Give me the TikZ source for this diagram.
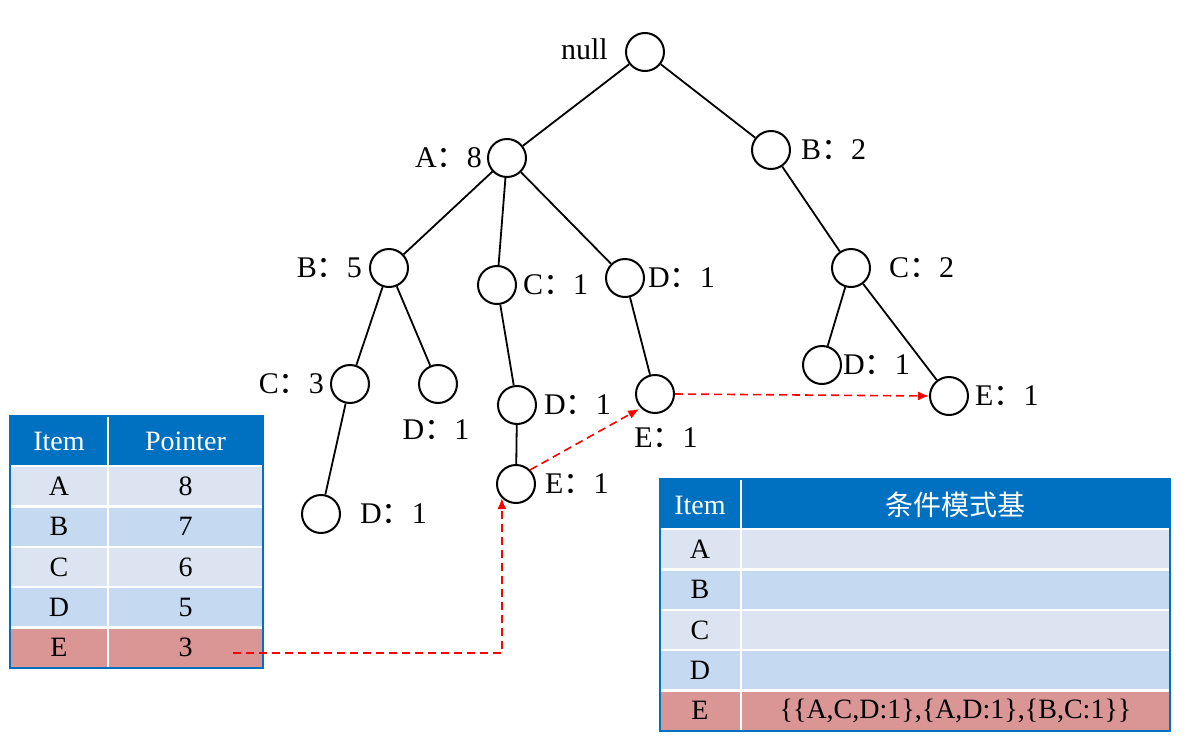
\documentclass[tikz,border=0pt]{standalone}
\usepackage{fontspec}
\setmainfont{Liberation Serif}
\newfontfamily\cjk{Noto Sans CJK SC}
\usetikzlibrary{arrows.meta, positioning}
\definecolor{hdrblue}{RGB}{0,112,192}
\definecolor{rowlight}{RGB}{219,228,240}
\definecolor{rowmid}{RGB}{197,217,240}
\definecolor{rowred}{RGB}{217,150,148}
\newcommand{\cn}{{\cjk ：}}

\begin{document}
\begin{tikzpicture}[x=1pt, y=-1pt,
    treenode/.style={draw, circle, line width=2pt, minimum size=38pt, inner sep=0pt},
    nlbl/.style={font=\fontsize{30}{32}\selectfont, inner sep=0pt},
    edge/.style={line width=1.8pt},
    ptr/.style={draw=red, line width=1.6pt, dash pattern=on 8pt off 5pt,
                -{Latex[length=11pt,width=9pt]}},
    cell/.style={font=\fontsize{28}{30}\selectfont, inner sep=0pt},
    hcell/.style={cell, text=white},
]
\useasboundingbox (0,0) rectangle (1192,742);

% tree
\node[treenode] (root) at (645,52) {};
\node[treenode] (a8) at (507,158) {};
\node[treenode] (b2) at (771,150) {};
\node[treenode] (b5) at (389,268) {};
\node[treenode] (c1) at (497,285) {};
\node[treenode] (d1) at (625,278) {};
\node[treenode] (c2) at (851,268) {};
\node[treenode] (c3) at (350,384) {};
\node[treenode] (d1a) at (438,384) {};
\node[treenode] (d1b) at (321,514) {};
\node[treenode] (d1c) at (517,405) {};
\node[treenode] (e1a) at (516,484) {};
\node[treenode] (e1b) at (655,394) {};
\node[treenode] (d1d) at (822,365) {};
\node[treenode] (e1c) at (949,396) {};

\node[nlbl, left=17pt of root, yshift=3pt] (lroot) {null};
\node[nlbl, left=5pt of a8] (la8) {A\cn 8};
\node[nlbl, right=10pt of b2] (lb2) {B\cn 2};
\node[nlbl, left=7pt of b5] (lb5) {B\cn 5};
\node[nlbl, right=6pt of c1] (lc1) {C\cn 1};
\node[nlbl, right=3pt of d1] (ld1) {D\cn 1};
\node[nlbl, right=18pt of c2] (lc2) {C\cn 2};
\node[nlbl, left=6pt of c3] (lc3) {C\cn 3};
\node[nlbl, below=15pt of d1a, xshift=-2pt] (ld1a) {D\cn 1};
\node[nlbl, right=19pt of d1b] (ld1b) {D\cn 1};
\node[nlbl, right=7pt of d1c] (ld1c) {D\cn 1};
\node[nlbl, right=9pt of e1a] (le1a) {E\cn 1};
\node[nlbl, below=13pt of e1b, xshift=11pt] (le1b) {E\cn 1};
\node[nlbl, right=1pt of d1d] (ld1d) {D\cn 1};
\node[nlbl, right=6pt of e1c] (le1c) {E\cn 1};

\foreach \a/\b in {root/a8,root/b2,a8/b5,a8/c1,a8/d1,b2/c2,b5/c3,b5/d1a,
                   c3/d1b,c1/d1c,d1c/e1a,d1/e1b,c2/d1d,c2/e1c}{
  \draw[edge] (\a) -- (\b);
}

% header table
\fill[hdrblue] (10,416) rectangle (263,466);
\node[hcell] (hitem) at (59,441) {Item};
\node[hcell] (hptr) at (185.5,441) {Pointer};
\foreach \ri/\rp/\rc [count=\k from 0] in {A/8/rowlight,B/7/rowmid,C/6/rowlight,D/5/rowmid,E/3/rowred}{
  \fill[\rc] (10,{466+40.4*\k}) rectangle (263,{466+40.4*(\k+1)});
  \node[cell] (it\ri) at (59,{486.2+40.4*\k}) {\ri};
  \node[cell] (pv\ri) at (185.5,{486.2+40.4*\k}) {\rp};
}
\foreach \k in {0,...,4}{
  \draw[white, line width=2.5pt] (10,{466+40.4*\k}) -- (263,{466+40.4*\k});
}
\draw[white, line width=2.5pt] (108,416) -- (108,668);
\draw[hdrblue, line width=1.5pt] (10,416) rectangle (263,668);

% conditional pattern base table
\fill[hdrblue] (660,479) rectangle (1170,529);
\node[hcell] (citem) at (700,505) {Item};
\node[hcell, font=\cjk\fontsize{28}{30}\selectfont] (cbase) at (955.5,505) {条件模式基};
\foreach \ri/\rb/\rc [count=\k from 0] in {A//rowlight,B//rowmid,C//rowlight,D//rowmid,
    E/{\{\{A,C,D:1\},\{A,D:1\},\{B,C:1\}\}}/rowred}{
  \fill[\rc] (660,{529+40.4*\k}) rectangle (1170,{529+40.4*(\k+1)});
  \node[cell] (ci\ri) at (700,{549.2+40.4*\k}) {\ri};
  \node[cell] (cb\ri) at (955.5,{549.2+40.4*\k}) {\rb};
}
\foreach \k in {0,...,4}{
  \draw[white, line width=2.5pt] (660,{529+40.4*\k}) -- (1170,{529+40.4*\k});
}
\draw[white, line width=2.5pt] (741,479) -- (741,731);
\draw[hdrblue, line width=1.5pt] (660,479) rectangle (1170,731);

% node links
\coordinate (eptr) at (233,653);
\draw[ptr] (eptr) -| (e1a.south west);
\draw[ptr, shorten >=2pt] (e1a.north east) -- (e1b.south west);
\draw[ptr] (e1b.east) -- (e1c.west);

\end{tikzpicture}
\end{document}
